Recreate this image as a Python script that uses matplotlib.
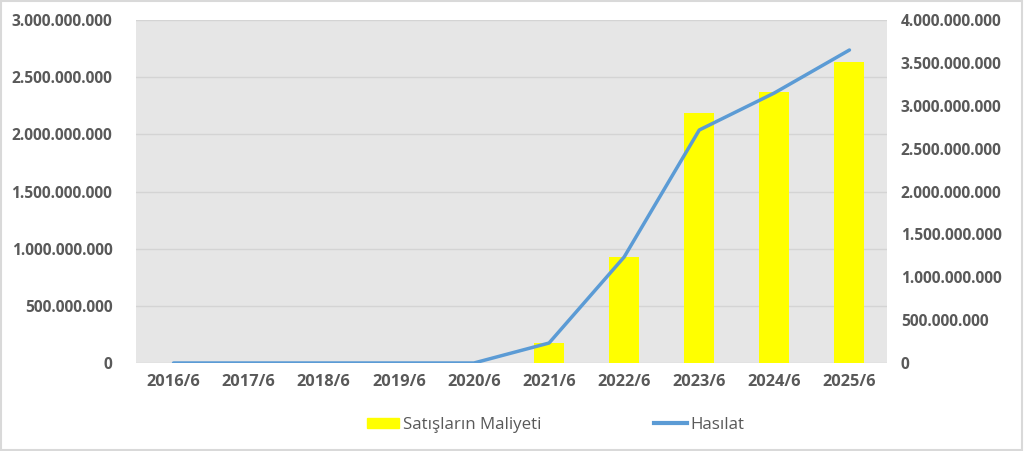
import matplotlib.pyplot as plt
from matplotlib.ticker import FuncFormatter
from matplotlib.lines import Line2D
from matplotlib.patches import Patch

# Cost of sales (bars, left axis) and revenue (line, right axis) per fiscal period

periods = ["2016/6", "2017/6", "2018/6", "2019/6", "2020/6",
           "2021/6", "2022/6", "2023/6", "2024/6", "2025/6"]
satis_maliyeti = [0, 0, 0, 0, 0,
                  175_000_000, 927_000_000, 2_187_000_000, 2_370_000_000, 2_632_000_000]
hasilat = [0, 0, 0, 0, 0,
           233_000_000, 1_236_000_000, 2_717_000_000, 3_149_000_000, 3_650_000_000]

TEXT_COLOR = "#595959"
plt.rcParams['font.family'] = ['Open Sans', 'DejaVu Sans']


def dotted(v, _pos=None) -> str:
    """Formats numbers with dots as thousand separators"""
    return f"{int(round(v)):,}".replace(",", ".")


def main() -> None:
    fig = plt.figure(figsize=(10.24, 4.51), dpi=100)
    ax = fig.add_axes([136 / 1024, 1 - 363 / 451, 751 / 1024, 343 / 451])
    ax2 = ax.twinx()

    x = list(range(len(periods)))
    ax.set_facecolor("#E6E6E6")
    ax.bar(x, satis_maliyeti, width=0.4, color="#FFFF00", zorder=2)
    ax2.plot(x, hasilat, color="#5B9BD5", linewidth=2.5, zorder=3,
             solid_capstyle="round")

    ax.set_xlim(-0.5, len(periods) - 0.5)
    ax.set_ylim(0, 3_000_000_000)
    ax2.set_ylim(0, 4_000_000_000)
    ax.set_yticks([i * 500_000_000 for i in range(7)])
    ax2.set_yticks([i * 500_000_000 for i in range(9)])
    ax.yaxis.set_major_formatter(FuncFormatter(dotted))
    ax2.yaxis.set_major_formatter(FuncFormatter(dotted))
    ax.set_xticks(x)
    ax.set_xticklabels(periods)

    ax.grid(axis="y", color="#D4D4D4", linewidth=1, zorder=0)
    ax.set_axisbelow(True)
    for a in (ax, ax2):
        for s in a.spines.values():
            s.set_visible(False)
        a.tick_params(length=0, colors=TEXT_COLOR, labelsize=11.2)
        for lbl in a.get_xticklabels() + a.get_yticklabels():
            lbl.set_fontweight("bold")
    ax.tick_params(axis="x", pad=8, labelsize=11.8)
    ax.tick_params(axis="y", pad=17)
    ax2.tick_params(axis="y", pad=10)

    handles = [Patch(color="#FFFF00", label="Satışların Maliyeti"),
               Line2D([], [], color="#5B9BD5", linewidth=3, label="Hasılat")]
    fig.legend(handles=handles, loc="center", bbox_to_anchor=(0.5425, 0.058),
               ncol=2, frameon=False, columnspacing=6.7, handlelength=1.9,
               handleheight=0.5, handletextpad=0.2, labelcolor=TEXT_COLOR,
               prop={"size": 12.2})

    fig.patches.append(plt.Rectangle((0.001, 0.002), 0.997, 0.995, transform=fig.transFigure,
                                     fill=False, edgecolor="#D9D9D9", linewidth=1.5))
    fig.savefig("out.png", dpi=100)


if __name__ == '__main__':
    main()
